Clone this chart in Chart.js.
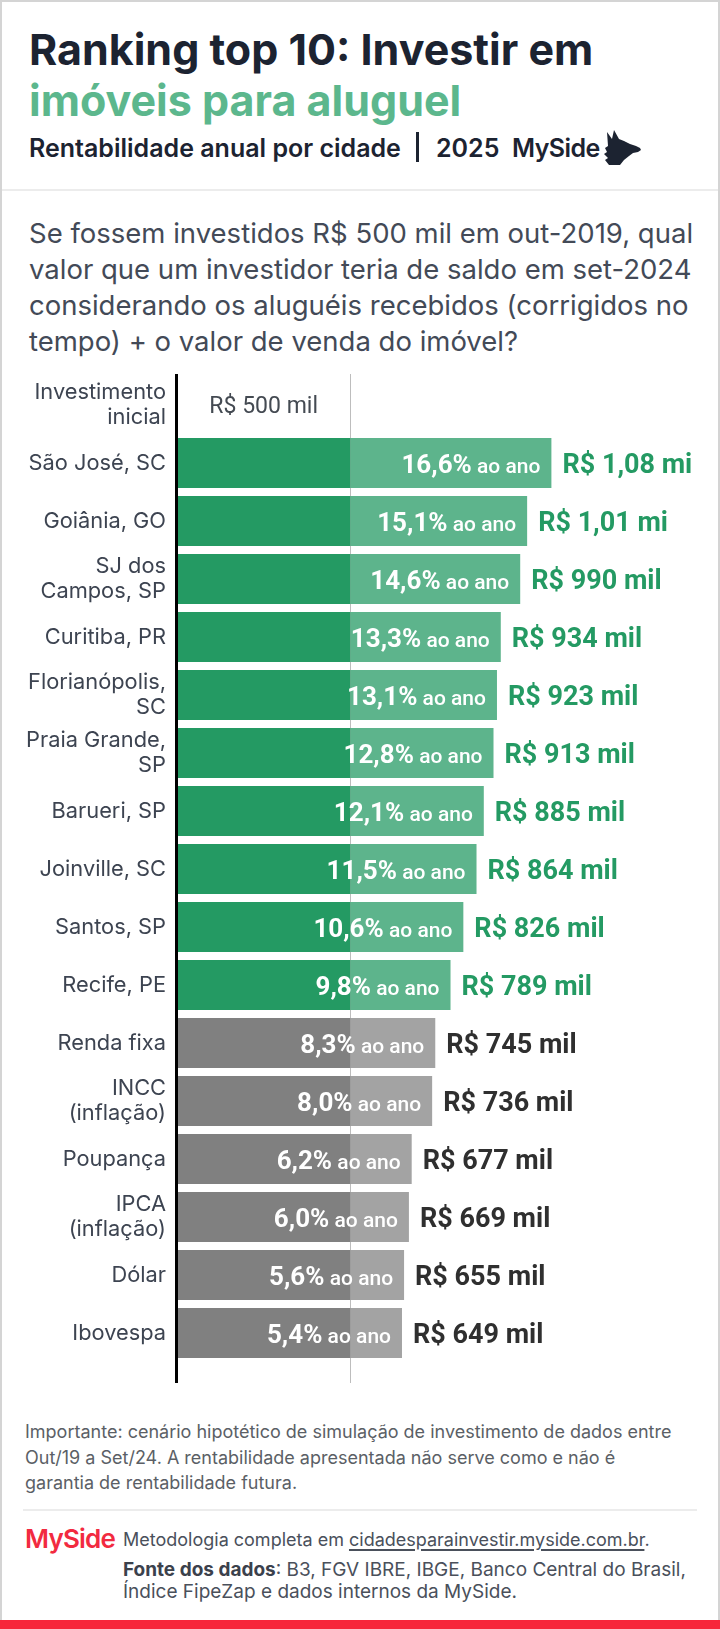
<!DOCTYPE html>
<html lang="pt-BR">
<head>
<meta charset="utf-8">
<script src="https://cdn.jsdelivr.net/npm/chart.js@4.4.1/dist/chart.umd.min.js"></script>
<style>
  html,body{margin:0;padding:0;background:#fff;}
  body{width:720px;height:1629px;position:relative;overflow:hidden;font-family:Inter, "Noto Sans", sans-serif;}
  .frame{position:absolute;left:0;top:0;width:720px;height:1629px;box-sizing:border-box;border:2px solid #d4d4d4;border-bottom:none;}
  .abs{position:absolute;white-space:nowrap;}
  .t1{left:29px;top:26px;font-size:43px;line-height:47px;font-weight:700;color:#1c2331;}
  .t2{left:29px;top:77px;font-size:43px;line-height:47px;font-weight:700;color:#5cb78d;}
  .sub{left:29px;top:133px;font-size:25px;line-height:30px;font-weight:600;color:#1c2331;}
  .sep{position:absolute;left:2px;right:2px;height:2px;background:#ececec;}
  .q{left:29px;top:215px;font-size:27.5px;line-height:36px;color:#434a57;}
  .note{left:25px;top:1419px;font-size:18px;line-height:25.5px;color:#5b5f66;}
  .meth{left:123px;top:1528px;font-size:18px;line-height:24px;color:#4a505b;}
  .meth u{text-decoration-thickness:1.5px;text-underline-offset:3px;}
  .fonte{left:123px;top:1559px;font-size:19px;line-height:22px;color:#4a505b;}
  .fonte b{color:#3b414c;}
  .logo{left:25px;top:1524px;font-size:26px;line-height:30px;font-weight:600;color:#f22a40;letter-spacing:-0.8px;}
  .redbar{position:absolute;left:0;top:1620px;width:720px;height:9px;background:#f7263b;}
</style>
</head>
<body>
<div class="frame"></div>
<div class="abs t1">Ranking top 10: Investir em</div>
<div class="abs t2">imóveis para aluguel</div>
<div class="abs sub">Rentabilidade anual por cidade</div>
<div class="abs" style="left:416px;top:132px;width:3px;height:30px;background:#1c2331;"></div>
<div class="abs sub" style="left:436px;">2025</div>
<div class="abs sub" style="left:512px;letter-spacing:-0.6px;">MySide</div>
<svg class="abs" style="left:602px;top:129px;" width="40" height="36" viewBox="0 0 40 36">
  <path d="M7 36 L3 31 L6 29 L2 25 L5 23 L3 19 L6 17 L5 3 L10 10 L12 1 L17 10 L22 12 L28 15 L34 17 L38 19 L39 21 L36 23 L31 24 L27 27 L22 31 L18 36 Z" fill="#1c2331"/>
</svg>
<div class="sep" style="top:189px;"></div>
<div class="abs q">Se fossem investidos R$ 500 mil em out-2019, qual<br>valor que um investidor teria de saldo em set-2024<br>considerando os aluguéis recebidos (corrigidos no<br>tempo) + o valor de venda do imóvel?</div>

<canvas id="c" width="720" height="1040" style="position:absolute;left:0;top:360px;"></canvas>

<div class="abs note">Importante: cenário hipotético de simulação de investimento de dados entre<br>Out/19 a Set/24. A rentabilidade apresentada não serve como e não é<br>garantia de rentabilidade futura.</div>
<div class="sep" style="top:1509px;left:23px;right:23px;"></div>
<div class="abs logo">MySide</div>
<div class="abs meth">Metodologia completa em <u>cidadesparainvestir.myside.com.br</u>.</div>
<div class="abs fonte"><b>Fonte dos dados</b>: B3, FGV IBRE, IBGE, Banco Central do Brasil,<br>Índice FipeZap e dados internos da MySide.</div>
<div class="redbar"></div>

<script>
// ---- data ----
const categories = [
  ["Investimento", "inicial"],
  "São José, SC",
  "Goiânia, GO",
  ["SJ dos", "Campos, SP"],
  "Curitiba, PR",
  ["Florianópolis,", "SC"],
  ["Praia Grande,", "SP"],
  "Barueri, SP",
  "Joinville, SC",
  "Santos, SP",
  "Recife, PE",
  "Renda fixa",
  ["INCC", "(inflação)"],
  "Poupança",
  ["IPCA", "(inflação)"],
  "Dólar",
  "Ibovespa"
];
const initialInvestment = 500; // R$ mil
const finalValues = [null, 1080, 1010, 990, 934, 923, 913, 885, 864, 826, 789, 745, 736, 677, 669, 655, 649]; // R$ mil
const annualReturn = [null, 16.6, 15.1, 14.6, 13.3, 13.1, 12.8, 12.1, 11.5, 10.6, 9.8, 8.3, 8.0, 6.2, 6.0, 5.6, 5.4]; // % ao ano
const cityCount = 10;

const GREEN_D = '#249a63', GREEN_L = '#5db48c', GRAY_D = '#808080', GRAY_L = '#a3a3a3';
const isCity = i => i >= 1 && i <= cityCount;

const baseData = finalValues.map(v => v == null ? null : initialInvestment);
const gainData = finalValues.map(v => v == null ? null : v - initialInvestment);

function fmtValue(v){
  if (v >= 1000) return 'R$ ' + (v/1000).toFixed(2).replace('.', ',') + ' mi';
  return 'R$ ' + v + ' mil';
}
function fmtPct(p){ return p.toFixed(1).replace('.', ',') + '%'; }

const linesPlugin = {
  id: 'lines',
  beforeDatasetsDraw(chart){
    const {ctx, chartArea, scales:{x}} = chart;
    const px = Math.round(x.getPixelForValue(initialInvestment)) + 0.5;
    ctx.save();
    ctx.strokeStyle = '#bdbdbd'; ctx.lineWidth = 1;
    ctx.beginPath(); ctx.moveTo(px, chartArea.top - 2); ctx.lineTo(px, chartArea.bottom + 21); ctx.stroke();
    ctx.restore();
  },
  afterDatasetsDraw(chart){
    const {ctx, chartArea, scales:{x, y}} = chart;
    const meta = chart.getDatasetMeta(1);
    ctx.save();
    const cx = (x.getPixelForValue(0) + x.getPixelForValue(initialInvestment)) / 2;
    ctx.font = '400 23px Roboto';
    ctx.fillStyle = '#444a52';
    ctx.textAlign = 'center'; ctx.textBaseline = 'alphabetic';
    ctx.fillText(fmtValue(initialInvestment), cx, y.getPixelForValue(0) + 8);
    for (let i = 0; i < finalValues.length; i++){
      if (finalValues[i] == null) continue;
      const el = meta.data[i];
      const xe = el.x, yc = el.y;
      const base = yc + 9.5;
      const p1 = fmtPct(annualReturn[i]), p2 = ' ao ano';
      ctx.font = '500 21px Roboto';
      const w2 = ctx.measureText(p2).width;
      ctx.fillStyle = '#ffffff';
      ctx.textAlign = 'right';
      ctx.fillText(p2, xe - 11, base);
      ctx.font = '700 26px Roboto';
      ctx.fillText(p1, xe - 11 - w2, base);
      ctx.textAlign = 'left';
      ctx.font = '700 27px Roboto';
      ctx.fillStyle = isCity(i) ? GREEN_D : '#2f2f2f';
      ctx.fillText(fmtValue(finalValues[i]), xe + 11, base);
    }
    const ax = x.getPixelForValue(0) - 0.5;
    ctx.strokeStyle = '#000'; ctx.lineWidth = 3;
    ctx.beginPath(); ctx.moveTo(ax, chartArea.top - 2); ctx.lineTo(ax, chartArea.bottom + 21); ctx.stroke();
    ctx.restore();
  }
};

new Chart(document.getElementById('c'), {
  type: 'bar',
  data: {
    labels: categories,
    datasets: [
      { data: baseData, backgroundColor: categories.map((_, i) => isCity(i) ? GREEN_D : GRAY_D), borderWidth: 0 },
      { data: gainData, backgroundColor: categories.map((_, i) => isCity(i) ? GREEN_L : GRAY_L), borderWidth: 0 }
    ]
  },
  options: {
    indexAxis: 'y',
    responsive: false,
    animation: false,
    devicePixelRatio: 1,
    categoryPercentage: 1,
    barPercentage: 50/58,
    layout: { padding: { top: 16, bottom: 38, left: 0, right: 23 } },
    plugins: { legend: { display: false }, tooltip: { enabled: false } },
    scales: {
      x: { stacked: true, min: 0, max: 1500, display: false },
      y: {
        stacked: true,
        grid: { display: false, drawTicks: false },
        border: { display: false },
        ticks: { padding: 11, color: '#3d4451', font: { family: 'Inter', size: 21.8, lineHeight: 25/21.8 } },
        afterFit(scale){ scale.width = 177; scale.paddingTop = 0; scale.paddingBottom = 0; }
      }
    }
  },
  plugins: [linesPlugin]
});
</script>
</body>
</html>
